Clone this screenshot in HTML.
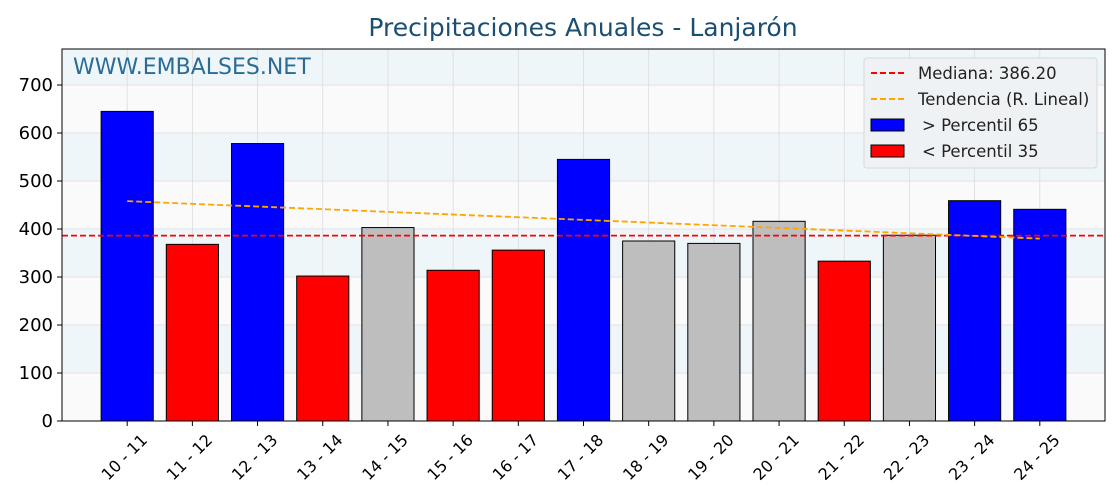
<!DOCTYPE html>
<html><head><meta charset="utf-8"><style>
body{margin:0;background:#fff;font-family:"DejaVu Sans","Liberation Sans",sans-serif;}
svg text{font-family:"DejaVu Sans","Liberation Sans",sans-serif;}
</style></head><body>
<svg id="chart" width="1120" height="500" xmlns="http://www.w3.org/2000/svg">
<text x="583" y="36" text-anchor="middle" font-size="25" fill="#1a4f72">Precipitaciones Anuales - Lanjarón</text>
<g id="bands"></g><g id="grid"></g><g id="bars"></g><g id="lines"></g><g id="axes"></g>
<text x="73" y="74" font-size="22" fill="#2a6c96">WWW.EMBALSES.NET</text>
<g>
<rect x="864" y="58" width="233" height="110" rx="3" fill="#eef1f3" fill-opacity="0.95" stroke="#d8d8d8"/>
<line x1="871" y1="73" x2="905" y2="73" stroke="red" stroke-width="2" stroke-dasharray="6,3"/>
<text x="918" y="79" font-size="16.5" fill="#222">Mediana: 386.20</text>
<line x1="871" y1="99" x2="905" y2="99" stroke="orange" stroke-width="2" stroke-dasharray="6,3"/>
<text x="918" y="105" font-size="16.5" fill="#222">Tendencia (R. Lineal)</text>
<rect x="871" y="119" width="33" height="12" fill="blue" stroke="#000"/>
<text x="922" y="131" font-size="16.5" fill="#222">&gt; Percentil 65</text>
<rect x="871" y="145" width="33" height="12" fill="red" stroke="#000"/>
<text x="922" y="157" font-size="16.5" fill="#222">&lt; Percentil 35</text>
</g>
</svg>
<script>
const categories=["10 - 11","11 - 12","12 - 13","13 - 14","14 - 15","15 - 16","16 - 17","17 - 18","18 - 19","19 - 20","20 - 21","21 - 22","22 - 23","23 - 24","24 - 25"];
const values=[645,368,578,302,403,314,356,545,375,370,416,333,387,459,441];
const colors=["blue","red","blue","red","#bebebe","red","red","blue","#bebebe","#bebebe","#bebebe","red","#bebebe","blue","blue"];
const yTicks=[0,100,200,300,400,500,600,700];
const median=386.2;
const trendStart=458, trendEnd=380;
const L=62,R=1105,T=49,B=421,yMax=775;
const NS="http://www.w3.org/2000/svg";
const n=categories.length;
const step=(R-L)/(n+1);
const x=i=>L+step*(i+1);
const y=v=>B-(v/yMax)*(B-T);
function mk(tag,attrs,parent){const e=document.createElementNS(NS,tag);for(const k in attrs)e.setAttribute(k,attrs[k]);document.getElementById(parent).appendChild(e);return e;}
for(let v=0;v<yMax;v+=100){
 const r=mk('rect',{x:L,y:y(Math.min(v+100,yMax)),width:R-L,height:y(v)-y(Math.min(v+100,yMax)),fill:(v/100)%2?'#eef6f9':'#fafafa'},'bands');
 
 
}
yTicks.forEach(v=>{const l=mk('line',{x1:L,x2:R,y1:y(v),y2:y(v),stroke:'#dcdcdc','stroke-width':0.8},'grid');
 
 });
categories.forEach((c,i)=>{const l=mk('line',{x1:x(i),x2:x(i),y1:T,y2:B,stroke:'#dcdcdc','stroke-width':0.8},'grid');
 
 });
const bw=step*0.8;
values.forEach((v,i)=>{const r=mk('rect',{x:x(i)-bw/2,y:y(v),width:bw,height:B-y(v),fill:colors[i],stroke:'#000','stroke-width':1},'bars');
 
 });
const ml=mk('line',{x1:L,x2:R,y1:y(median),y2:y(median),stroke:'red','stroke-width':1.8,'stroke-dasharray':'6,3'},'lines');


const tl=mk('line',{x1:x(0),x2:x(n-1),y1:y(trendStart),y2:y(trendEnd),stroke:'orange','stroke-width':1.8,'stroke-dasharray':'6,3'},'lines');


const fr=mk('rect',{x:L,y:T,width:R-L,height:B-T,fill:'none',stroke:'#000','stroke-width':1},'axes');


yTicks.forEach(v=>{mk('line',{x1:L-5,x2:L,y1:y(v),y2:y(v),stroke:'#000'},'axes');
 const t=mk('text',{x:L-9,y:y(v)+6,'text-anchor':'end','font-size':18,fill:'#000'},'axes');t.textContent=v;
 
 });
categories.forEach((c,i)=>{mk('line',{x1:x(i),x2:x(i),y1:B,y2:B+5,stroke:'#000'},'axes');
 const tx=x(i)+21, ty=B+20;
 const t=mk('text',{x:tx,y:ty,'text-anchor':'end','font-size':16,fill:'#000',transform:`rotate(-45 ${tx} ${ty})`},'axes');t.textContent=c;
 
 });
</script>
</body></html>
